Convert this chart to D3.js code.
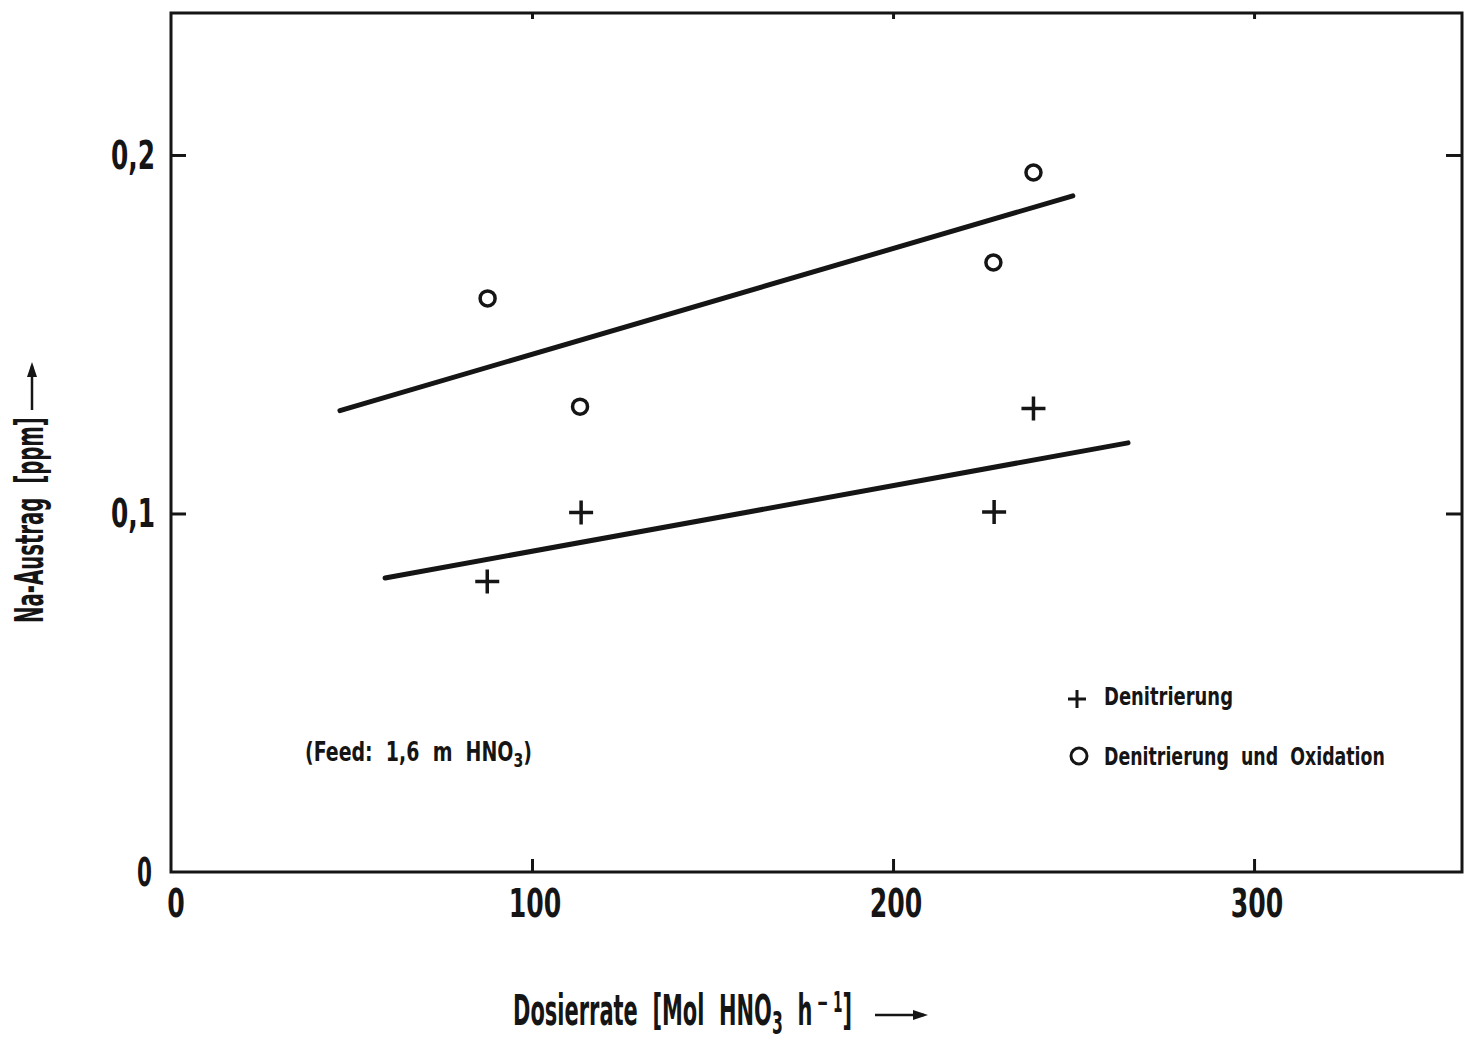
<!DOCTYPE html>
<html><head><meta charset="utf-8">
<script src="https://cdn.jsdelivr.net/npm/d3@7"></script>
<style>
body{margin:0;background:#fff;}
svg text{font-family:"Liberation Sans Narrow","DejaVu Sans Condensed",sans-serif;font-weight:bold;fill:#151515;white-space:pre;}
</style></head>
<body><svg id="c" width="1467" height="1037"></svg>
<script>
// Data
const xTicks = [100, 200, 300];
const xTickLabels = ["0", "100", "200", "300"];
const xLabelValues = [0, 100, 200, 300];
const yTicks = [0.1, 0.2];
const yTickLabels = ["0", "0,1", "0,2"];
const yLabelValues = [0, 0.1, 0.2];
const denitX = [87.6, 113.6, 228.0, 238.9];
const denitY = [0.081, 0.1003, 0.1004, 0.1293];
const oxidX = [87.7, 113.3, 227.8, 238.9];
const oxidY = [0.160, 0.1298, 0.1700, 0.1951];
const fitOxidX = [46.8, 249.8];
const fitOxidY = [0.1287, 0.1886];
const fitDenitX = [59.3, 265.1];
const fitDenitY = [0.0820, 0.1197];
const legendLabels = ["Denitrierung", "Denitrierung  und  Oxidation"];

const svg = d3.select("#c");
const L = 171, R = 1462, T = 13, B = 872;
const x = d3.scaleLinear().domain([0, 357.6]).range([L, R]);
const y = d3.scaleLinear().domain([0, 0.2396]).range([B, T]);
const ink = "#151515";

// place a text at (px,py), anchored, squeezed horizontally to a given width
function fitText(px, py, anchor, size, width, build, rot) {
  const g = svg.append("g").attr("transform", `translate(${px},${py})` + (rot ? ` rotate(${rot})` : ""));
  const t = g.append("text").attr("font-size", size).attr("text-anchor", anchor);
  build(t);
  const w = t.node().getComputedTextLength();
  t.attr("transform", `scale(${width / w},1)`);
  return t;
}
// a row of separate text pieces (for sub/superscripts), squeezed to a width
function fitPieces(px, py, width, pieces) {
  const g = svg.append("g");
  let cx = 0;
  pieces.forEach(p => {
    const t = g.append("text").attr("x", cx + (p.dx || 0)).attr("y", p.dy || 0)
      .attr("font-size", p.size).text(p.text);
    cx += (p.dx || 0) + t.node().getComputedTextLength();
  });
  g.attr("transform", `translate(${px},${py}) scale(${width / cx},1)`);
}

// frame
svg.append("rect").attr("x", L).attr("y", T).attr("width", R - L).attr("height", B - T)
  .attr("fill", "none").attr("stroke", ink).attr("stroke-width", 3);

// axes ticks
const gl = svg.append("g").attr("transform", `translate(${L},0)`)
  .call(d3.axisRight(y).tickValues(yTicks).tickSize(15).tickFormat(""));
const gr = svg.append("g").attr("transform", `translate(${R},0)`)
  .call(d3.axisLeft(y).tickValues(yTicks).tickSize(16).tickFormat(""));
const gb = svg.append("g").attr("transform", `translate(0,${B})`)
  .call(d3.axisTop(x).tickValues(xTicks).tickSize(13).tickFormat(""));
const gt = svg.append("g").attr("transform", `translate(0,${T})`)
  .call(d3.axisBottom(x).tickValues(xTicks).tickSize(6).tickFormat(""));
[gl, gr, gb, gt].forEach(g => {
  g.select(".domain").remove();
  g.selectAll("line").attr("stroke", ink).attr("stroke-width", 3);
});

// tick labels
xLabelValues.forEach((d, i) => {
  const lbl = xTickLabels[i];
  fitText(x(d) + (i === 0 ? 5 : 3), 917, "middle", 39, lbl.length * 17.5, t => t.text(lbl));
});
yLabelValues.forEach((d, i) => {
  const lbl = yTickLabels[i];
  fitText(i === 0 ? 152 : 155, y(d) + 14, "end", 39, lbl.length === 1 ? 15 : 44, t => t.text(lbl));
});

// fit lines
const line = d3.line().x(d => x(d[0])).y(d => y(d[1]));
[[fitOxidX, fitOxidY], [fitDenitX, fitDenitY]].forEach(([xs, ys]) => {
  svg.append("path").datum(xs.map((v, i) => [v, ys[i]])).attr("d", line)
    .attr("fill", "none").attr("stroke", ink).attr("stroke-width", 5).attr("stroke-linecap", "round");
});

// markers
function plus(g, cx, cy, s, w) {
  g.append("path").attr("d", `M${cx - s},${cy}H${cx + s}M${cx},${cy - s}V${cy + s}`)
    .attr("stroke", ink).attr("stroke-width", w).attr("fill", "none");
}
const mk = svg.append("g");
denitX.forEach((v, i) => plus(mk, x(v), y(denitY[i]), 12, 3.5));
mk.selectAll("circle").data(oxidX).enter().append("circle")
  .attr("cx", d => x(d)).attr("cy", (d, i) => y(oxidY[i])).attr("r", 7.5)
  .attr("fill", "none").attr("stroke", ink).attr("stroke-width", 3.5);

// legend
plus(svg, 1077, 699, 9, 3);
svg.append("circle").attr("cx", 1079).attr("cy", 756).attr("r", 8)
  .attr("fill", "none").attr("stroke", ink).attr("stroke-width", 3);
fitText(1104, 705, "start", 25, 129, t => t.text(legendLabels[0]));
fitText(1104, 765, "start", 25, 281, t => t.text(legendLabels[1]));

// feed note
fitPieces(305, 761, 227, [
  {text: "(Feed:  1,6  m  HNO", size: 27},
  {text: "3", size: 20, dy: 6},
  {text: ")", size: 27}
]);

// x title
fitPieces(513, 1025, 339, [
  {text: "Dosierrate  [Mol  HNO", size: 43},
  {text: "3", size: 32, dy: 9},
  {text: "  h", size: 43},
  {text: "− 1", size: 28, dy: -13, dx: 8},
  {text: "]", size: 43}
]);

// y title
fitText(43, 623, "start", 39, 206, t => t.text("Na-Austrag  [ppm]"), -90);

// arrows
svg.append("path").attr("d", "M875,1015H924").attr("stroke", ink).attr("stroke-width", 2.5);
svg.append("path").attr("d", "M913,1010L928,1015L913,1020Z").attr("fill", ink);
svg.append("path").attr("d", "M32,410V366").attr("stroke", ink).attr("stroke-width", 2.5);
svg.append("path").attr("d", "M27,377L32,362L37,377Z").attr("fill", ink);
</script></body></html>
